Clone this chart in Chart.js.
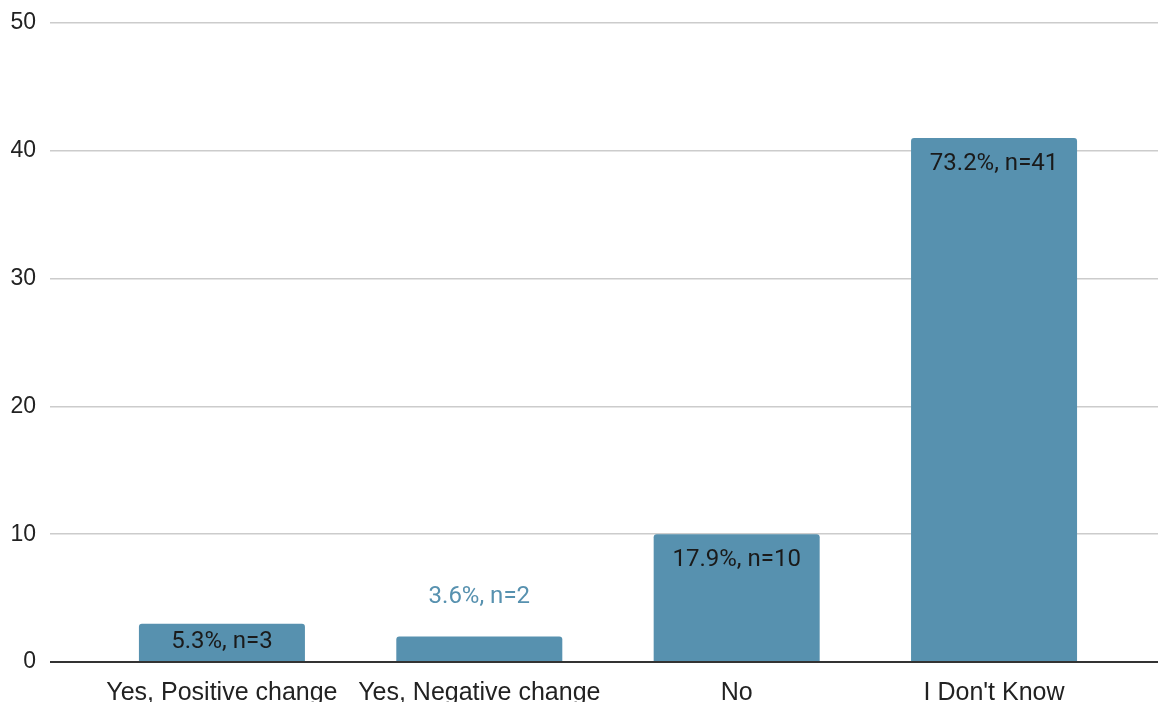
<!DOCTYPE html>
<html>
<head>
<meta charset="utf-8">
<script src="https://cdn.jsdelivr.net/npm/chart.js@4/dist/chart.umd.min.js"></script>
<style>
  html, body { margin: 0; padding: 0; background: #ffffff; }
  #wrap { width: 1158px; height: 702px; overflow: hidden; }
</style>
</head>
<body>
<div id="wrap"><canvas id="chart" width="1158" height="702"></canvas></div>
<script>
// Survey answers and response counts
const categories = ["Yes, Positive change", "Yes, Negative change", "No", "I Don't Know"];
const counts = [3, 2, 10, 41];
const percents = [5.3, 3.6, 17.9, 73.2];
const yTicks = [0, 10, 20, 30, 40, 50];

const barColor = "#5791af";
const points = categories.map((_, i) => ({ x: i, y: counts[i] }));

// Writes "pct%, n=count" on each bar; short bars get the label above them
const valueLabels = {
  id: "valueLabels",
  afterDatasetsDraw(chart) {
    const ctx = chart.ctx;
    const meta = chart.getDatasetMeta(0);
    ctx.save();
    ctx.font = "24px Roboto";
    ctx.textAlign = "center";
    ctx.textBaseline = "middle";
    meta.data.forEach((bar, i) => {
      const text = percents[i] + "%, n=" + counts[i];
      const h = bar.base - bar.y;
      if (h >= 30) {
        ctx.fillStyle = "#1a1a1a";
        ctx.fillText(text, bar.x, Math.min(bar.y + 26, (bar.y + bar.base) / 2));
      } else {
        ctx.fillStyle = barColor;
        ctx.fillText(text, bar.x, bar.y - 39);
      }
    });
    ctx.restore();
  }
};

new Chart(document.getElementById("chart"), {
  type: "bar",
  data: {
    datasets: [{
      data: points,
      backgroundColor: barColor,
      borderWidth: 0,
      borderRadius: { topLeft: 3, topRight: 3, bottomLeft: 0, bottomRight: 0 },
      borderSkipped: "bottom",
      barPercentage: 0.645,
      categoryPercentage: 1
    }]
  },
  options: {
    responsive: false,
    devicePixelRatio: 1,
    animation: false,
    layout: { padding: { top: 23, right: 0, bottom: 0, left: 0 } },
    plugins: { legend: { display: false }, tooltip: { enabled: false } },
    scales: {
      x: {
        type: "linear",
        offset: false,
        min: -0.668,
        max: 3.637,
        grid: { display: false },
        border: { display: false },
        afterBuildTicks: (scale) => { scale.ticks = categories.map((_, i) => ({ value: i })); },
        afterFit: (scale) => { scale.height = 40; },
        ticks: {
          autoSkip: false,
          maxRotation: 0,
          padding: 11,
          color: "#222222",
          font: { family: "'Liberation Sans', Arial, sans-serif", size: 25, lineHeight: 1 },
          callback: (v) => categories[v]
        }
      },
      y: {
        min: 0,
        max: 50,
        afterBuildTicks: (scale) => { scale.ticks = yTicks.map(v => ({ value: v })); },
        afterFit: (scale) => { scale.width = 50; scale.paddingTop = 0; scale.paddingBottom = 0; },
        border: { display: false },
        grid: {
          drawTicks: false,
          color: (c) => c.tick && c.tick.value === 0 ? "#333333" : "#cccccc",
          lineWidth: (c) => c.tick && c.tick.value === 0 ? 2 : 1.5
        },
        ticks: {
          padding: 14,
          color: "#222222",
          font: { family: "'Liberation Sans', Arial, sans-serif", size: 23 }
        }
      }
    }
  },
  plugins: [valueLabels]
});
</script>
</body>
</html>
